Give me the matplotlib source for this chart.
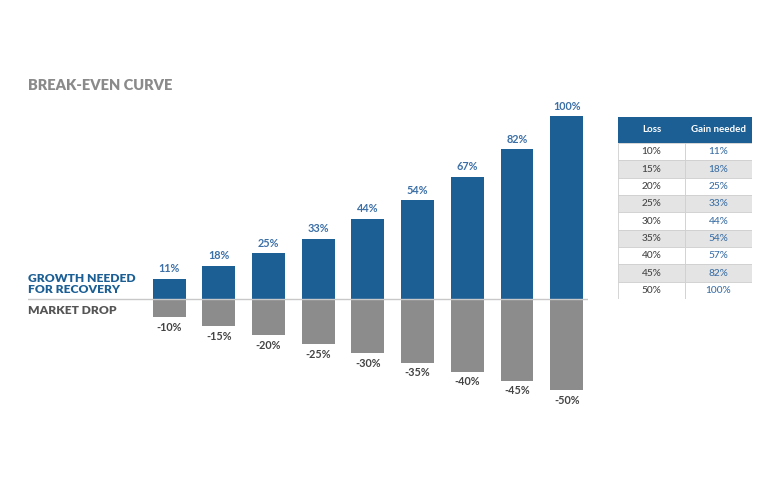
import matplotlib.pyplot as plt
from matplotlib.patches import Rectangle

loss = [10, 15, 20, 25, 30, 35, 40, 45, 50]
gain = [11, 18, 25, 33, 44, 54, 67, 82, 100]
table_loss = ['10%', '15%', '20%', '25%', '30%', '35%', '40%', '45%', '50%']
table_gain = ['11%', '18%', '25%', '33%', '44%', '54%', '57%', '82%', '100%']

BLUE = '#1c5f95'
LABEL_BLUE = '#3b6fa6'
GREY = '#8c8c8c'
DARK = '#444444'

plt.rcParams['font.family'] = ['Lato', 'DejaVu Sans']

W, H = 775, 488
fig = plt.figure(figsize=(W / 100, H / 100), dpi=100)

# main bar chart, placed in pixel terms
left, right, top, bottom = 28, 588, 100, 410
ax = fig.add_axes([left / W, 1 - bottom / H, (right - left) / W, (bottom - top) / H])
x = list(range(len(loss)))
ax.bar(x, gain, width=0.66, color=BLUE)
ax.bar(x, [-v for v in loss], width=0.66, color=GREY)
for i in x:
    ax.text(i, gain[i] + 2.5, '{}%'.format(gain[i]), ha='center', va='bottom',
            fontsize=7.8, fontweight='bold', color=LABEL_BLUE)
    ax.text(i, -loss[i] - 2.5, '-{}%'.format(loss[i]), ha='center', va='top',
            fontsize=7.8, fontweight='bold', color=DARK)
ax.axhline(0, color='#c8c8c8', lw=1)
ax.set_xlim(-2.84, 8.43)
ax.set_ylim(-61, 109)
ax.axis('off')

fig.text(left / W, 1 - 86 / H, 'BREAK-EVEN CURVE', fontsize=10.5, fontweight='heavy',
         color='#8a8a8a', va='center')
fig.text(left / W, 1 - 284 / H, 'GROWTH NEEDED\nFOR RECOVERY', fontsize=8.7, fontweight='heavy',
         color=BLUE, va='center', linespacing=0.95)
fig.text(left / W, 1 - 311 / H, 'MARKET DROP', fontsize=8.7, fontweight='heavy',
         color='#555555', va='center')

# table on the right
tl, tr, tt, tb = 618, 752, 117, 299
tax = fig.add_axes([tl / W, 1 - tb / H, (tr - tl) / W, (tb - tt) / H])
header_h = 1.5
n = len(table_loss)
tax.set_xlim(0, 2)
tax.set_ylim(n + header_h, 0)
tax.axis('off')
tax.add_patch(Rectangle((0, 0), 2, header_h, facecolor=BLUE, edgecolor='none'))
tax.text(0.5, header_h / 2, 'Loss', ha='center', va='center', color='white',
         fontsize=7, fontweight='bold')
tax.text(1.5, header_h / 2, 'Gain needed', ha='center', va='center', color='white',
         fontsize=7, fontweight='bold')
for r in range(n):
    y0 = header_h + r
    fc = 'white' if r % 2 == 0 else '#e4e4e4'
    tax.add_patch(Rectangle((0, y0), 1, 1, facecolor=fc, edgecolor='#cfcfcf', lw=0.6))
    tax.add_patch(Rectangle((1, y0), 1, 1, facecolor=fc, edgecolor='#cfcfcf', lw=0.6))
    tax.text(0.5, y0 + 0.5, table_loss[r], ha='center', va='center', color=DARK,
             fontsize=7.3, fontweight='medium')
    tax.text(1.5, y0 + 0.5, table_gain[r], ha='center', va='center', color=LABEL_BLUE,
             fontsize=7.3, fontweight='medium')

fig.savefig('out.png', dpi=100)
